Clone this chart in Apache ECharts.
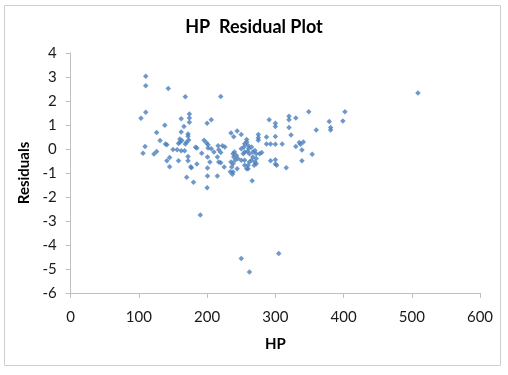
<!DOCTYPE html>
<html>
<head>
<meta charset="utf-8">
<script src="https://cdn.jsdelivr.net/npm/echarts@6/dist/echarts.min.js"></script>
<style>html,body{margin:0;padding:0;background:#fff;}#c{width:508px;height:375px;}</style>
</head>
<body>
<div id="c"></div>
<script>
var chartTitle = "HP  Residual Plot";
var xName = "HP";
var yName = "Residuals";
var xTicks = [0, 100, 200, 300, 400, 500, 600];
var yTicks = [-6, -5, -4, -3, -2, -1, 0, 1, 2, 3, 4];

var hp = [
110,110,143,168,220,110,103,174,174,174,162,138,166,126,162,172,131,139,141,160,
160,158,163,170,173,168,162,183,185,109,106,122,126,150,145,141,158,145,172,172,
176,177,185,192,170,180,200,156,167,172,
206,200,291,320,320,330,349,300,300,320,379,381,381,360,235,244,250,239,275,275,
275,287,300,300,287,293,310,323,335,341,337,330,339,354,339,316,300,293,300,302,
402,399,509,
195.5,199,201.4,201.4,206,210,200.5,204,217,220,226,215,217,220,225,200.5,200.5,215,216,222.5,
255,258,260,254,261,265,259,255,250,253,262,267,270,272,277,280,267,272,265,270,
269,262,260,255,255,258,250,245,243,240,238,239,241,238,236,235,238,244,260,272,258,
234,237,266,190,250,262,305
];
var residuals = [
3.03,2.64,2.52,2.18,2.19,1.53,1.28,1.46,1.29,1.11,1.26,0.99,0.94,0.69,0.71,0.63,0.35,0.21,0.18,0.42,
0.28,0.23,0.35,0.28,0.38,0.21,-0.07,0.07,0.04,0.10,-0.18,-0.21,-0.10,-0.02,-0.35,-0.49,-0.49,-0.74,-0.31,-0.49,
-0.74,-0.78,-0.63,-0.18,-1.18,-1.39,-1.61,-0.03,-0.07,0.53,
1.22,1.07,1.22,1.36,1.22,1.29,1.55,1.07,0.94,0.90,1.15,0.90,0.79,0.79,0.67,0.75,0.60,0.51,0.60,0.47,
0.36,0.50,0.52,0.20,0.21,0.21,0.21,0.58,0.27,0.29,0.20,0.10,-0.04,-0.22,-0.49,-0.78,-0.45,-0.49,-0.63,-0.68,
1.55,1.17,2.33,
0.36,0.26,0.18,0.04,0.01,-0.13,-0.33,-0.54,-0.03,-0.15,0.08,-0.33,-0.54,-0.57,-0.75,-0.79,-1.13,-1.13,0.14,0.14,
0.22,0.29,0.15,0.08,0.01,0.08,-0.10,-0.13,0.01,-0.20,-0.20,-0.13,-0.06,-0.20,-0.20,-0.15,-0.33,-0.40,-0.47,-0.54,
-0.68,-0.54,-0.68,-0.47,-0.68,-0.82,-0.47,-0.40,-0.27,-0.13,-0.20,-0.33,-0.47,-0.61,-0.75,-0.54,-0.96,-0.82,-0.82,-0.61,0.40,
-0.95,-1.05,-1.32,-2.75,-4.56,-5.13,-4.35
];

var pts = hp.map(function (v, i) { return [v, residuals[i]]; });

var chart = echarts.init(document.getElementById('c'), null, {renderer: 'canvas'});
var fontFam = 'Lato, "Open Sans", sans-serif';
chart.setOption({
  animation: false,
  backgroundColor: '#ffffff',
  graphic: [{
    type: 'rect',
    shape: {x: 4.5, y: 5.5, width: 496, height: 360},
    style: {fill: 'none', stroke: '#cfcfcf', lineWidth: 1},
    silent: true, z: 0
  }],
  title: {
    text: chartTitle,
    left: 'center',
    top: 13,
    textStyle: {fontFamily: fontFam, fontSize: 18, fontWeight: 'bold', color: '#000'}
  },
  grid: {left: 70.7, right: 28, top: 53, bottom: 82, containLabel: false},
  xAxis: {
    type: 'value',
    min: xTicks[0], max: xTicks[xTicks.length - 1], interval: 100,
    name: xName, nameLocation: 'middle', nameGap: 44,
    nameTextStyle: {fontFamily: fontFam, fontSize: 15, fontWeight: 'bold', color: '#000'},
    axisLine: {onZero: false, lineStyle: {color: '#bfbfbf', width: 1}},
    axisTick: {show: true, length: 5, lineStyle: {color: '#bfbfbf'}},
    axisLabel: {margin: 17, fontFamily: fontFam, fontSize: 15, color: '#1a1a1a'},
    splitLine: {show: false}
  },
  yAxis: {
    type: 'value',
    min: yTicks[0], max: yTicks[yTicks.length - 1], interval: 1,
    name: yName, nameLocation: 'middle', nameGap: 35, nameRotate: 90,
    nameTextStyle: {fontFamily: fontFam, fontSize: 15, fontWeight: 'bold', color: '#000'},
    axisLine: {show: true, onZero: false, lineStyle: {color: '#bfbfbf', width: 1}},
    axisTick: {show: true, length: 5, lineStyle: {color: '#bfbfbf'}},
    axisLabel: {margin: 14, fontFamily: fontFam, fontSize: 15, color: '#1a1a1a'},
    splitLine: {show: false}
  },
  series: [{
    type: 'scatter',
    data: pts,
    symbol: 'diamond',
    symbolSize: 5.5,
    itemStyle: {color: '#4a7ebb'}
  }]
});
</script>
</body>
</html>
